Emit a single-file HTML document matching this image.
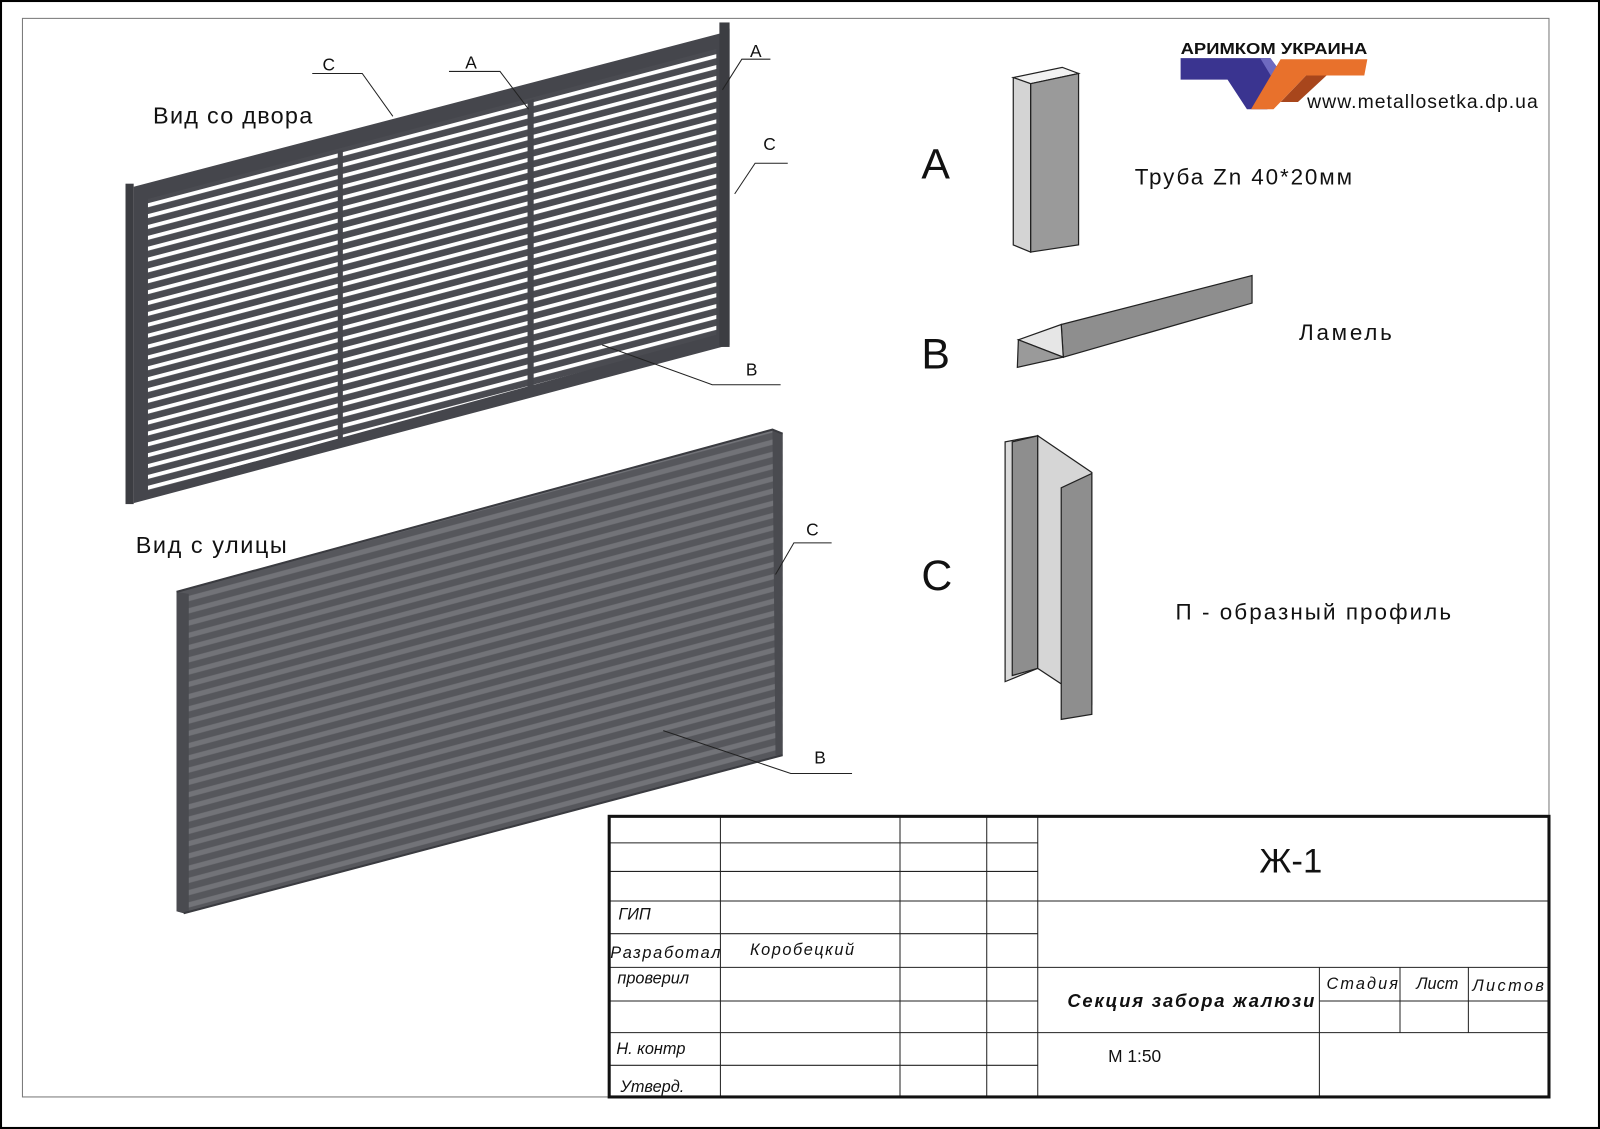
<!DOCTYPE html>
<html><head><meta charset="utf-8"><style>html,body{margin:0;padding:0;background:#fff}svg{display:block}</style></head>
<body>
<svg width="1600" height="1129" viewBox="0 0 1568 1106.4" xmlns="http://www.w3.org/2000/svg" font-family="Liberation Sans, DejaVu Sans, sans-serif">
<defs>
<pattern id="gap" patternUnits="userSpaceOnUse" width="40" height="10.3" patternTransform="rotate(-14.7 145 193)">
<rect width="40" height="10.3" fill="#4a4b51"/><rect y="3.3" width="40" height="3.8" fill="#fff"/></pattern>
<pattern id="str" patternUnits="userSpaceOnUse" width="40" height="11.6" patternTransform="rotate(-15 185 585)">
<rect width="40" height="11.6" fill="#56575c"/><rect y="4" width="40" height="5" fill="#727378"/></pattern>
</defs>
<rect x="1" y="1" width="1566" height="1104.4" fill="#fff" stroke="#000" stroke-width="2"/>
<rect x="22" y="18" width="1496" height="1057" fill="none" stroke="#777" stroke-width="1"/>

<!-- fence 1 -->
<polygon points="131,183 705,33 715,28 715,338 131,493" fill="#45464c"/>
<polygon points="145,195 702,48 702,328 145,481" fill="url(#gap)"/>
<polygon points="331,148 336,147 336,430 331,431" fill="#45464c"/>
<polygon points="517,99 523,97 523,383 517,384" fill="#45464c"/>
<rect x="123" y="180" width="8" height="314" fill="#3c3d42"/>
<rect x="705" y="22" width="10" height="318" fill="#3c3d42"/>

<!-- fence 2 -->
<polygon points="173,580 757,421 767,425 767,740 180,895 173,893" fill="url(#str)"/>
<polygon points="173,580 185,582 185,893 180,895 173,893" fill="#4a4b50"/>
<polygon points="757,421 767,425 767,740 760,740" fill="#4a4b50"/>
<polyline points="173,580 757,421 767,425" fill="none" stroke="#3a3b40" stroke-width="2"/>
<polyline points="180,895 767,740" fill="none" stroke="#3a3b40" stroke-width="2"/>

<!-- leaders -->
<g stroke="#222" stroke-width="1" fill="none">
<polyline points="306,72 355,72 385,114"/>
<polyline points="440,70 490,70 518,107"/>
<polyline points="708,88 727,58 755,58"/>
<polyline points="720,190 740,160 772,160"/>
<polyline points="590,338 698,377 765,377"/>
<polyline points="760,563 778,532 815,532"/>
<polyline points="650,716 775,758 835,758"/>
</g>
<g font-size="17" fill="#111">
<text x="316" y="69">C</text><text x="456" y="67">A</text><text x="735" y="56">A</text>
<text x="748" y="147">C</text><text x="731" y="368">B</text><text x="790" y="525">C</text><text x="798" y="748">B</text>
</g>
<text x="150" y="121" font-size="23" fill="#111" textLength="156">Вид со двора</text>
<text x="133" y="542" font-size="23" fill="#111" textLength="148">Вид с улицы</text>

<!-- logo -->
<text x="1157" y="53" font-size="15" font-weight="bold" fill="#111" textLength="183" lengthAdjust="spacingAndGlyphs">АРИМКОМ УКРАИНА</text>
<polygon points="1157,57 1245,57 1262,80 1242,107 1222,107 1203,78 1157,78" fill="#3a3490"/>
<polygon points="1235,57 1245,57 1262,80 1255,90" fill="#6e6ac0"/>
<polygon points="1255,58 1340,58 1337,74 1280,74 1248,107 1226,107" fill="#e8712c"/>
<polygon points="1280,74 1300,74 1272,100 1255,100" fill="#a8461c"/>
<text x="1281" y="106" font-size="19" fill="#111" textLength="226">www.metallosetka.dp.ua</text>

<!-- profiles -->
<g font-size="42" fill="#111"><text x="903" y="175">A</text><text x="903" y="361">B</text><text x="903" y="578">C</text></g>
<g stroke="#222" stroke-width="1.2">
<polygon points="993,76 1041,66 1057,72 1010,82" fill="#f2f2f2"/>
<polygon points="1010,82 1057,72 1057,240 1010,247" fill="#9a9a9a"/>
<polygon points="993,76 1010,82 1010,247 993,240" fill="#d4d4d4"/>
<polygon points="1040,318 1227,270 1227,297 1042,350" fill="#8e8e8e"/>
<polygon points="998,333 1040,318 1042,350" fill="#e6e6e6"/>
<polygon points="998,333 1042,350 997,360" fill="#9a9a9a"/>
<polygon points="985,433 1017,427 1017,655 985,668" fill="#dadada"/>
<polygon points="992,433 1017,427 1017,655 992,662" fill="#8e8e8e"/>
<polygon points="1017,427 1070,463 1070,690 1017,655" fill="#d6d6d6"/>
<polygon points="1040,478 1070,464 1070,700 1040,705" fill="#8e8e8e"/>
</g>
<g font-size="22" fill="#111">
<text x="1112" y="181" textLength="213">Труба Zn 40*20мм</text>
<text x="1273" y="333" textLength="91">Ламель</text>
<text x="1152" y="607" textLength="270">П - образный профиль</text>
</g>

<!-- title block -->
<g stroke="#222" stroke-width="1" fill="none">
<line x1="597" y1="826" x2="1017" y2="826"/><line x1="597" y1="854" x2="1017" y2="854"/>
<line x1="597" y1="883" x2="1518" y2="883"/><line x1="597" y1="915" x2="1017" y2="915"/>
<line x1="597" y1="948" x2="1518" y2="948"/><line x1="597" y1="981" x2="1017" y2="981"/>
<line x1="1293" y1="981" x2="1518" y2="981"/>
<line x1="597" y1="1012" x2="1518" y2="1012"/><line x1="597" y1="1044" x2="1017" y2="1044"/>
<line x1="706" y1="800" x2="706" y2="1075"/><line x1="882" y1="800" x2="882" y2="1075"/>
<line x1="967" y1="800" x2="967" y2="1075"/><line x1="1017" y1="800" x2="1017" y2="1075"/>
<line x1="1293" y1="948" x2="1293" y2="1075"/><line x1="1372" y1="948" x2="1372" y2="1012"/>
<line x1="1439" y1="948" x2="1439" y2="1012"/>
</g>
<rect x="597" y="800" width="921" height="275" fill="none" stroke="#111" stroke-width="3"/>
<text x="1265" y="855" font-size="34" fill="#111" text-anchor="middle">Ж-1</text>
<g font-size="16" font-style="italic" fill="#111">
<text x="606" y="901">ГИП</text>
<text x="598" y="939" textLength="108">Разработал</text>
<text x="735" y="936" textLength="102">Коробецкий</text>
<text x="605" y="964">проверил</text>
<text x="604" y="1033">Н. контр</text>
<text x="608" y="1070">Утверд.</text>
<text x="1300" y="969" textLength="70">Стадия</text>
<text x="1388" y="969">Лист</text>
<text x="1443" y="971" textLength="70">Листов</text>
<text x="1046" y="987" font-weight="bold" font-size="18" textLength="242">Секция забора жалюзи</text>
</g>
<text x="1086" y="1041" font-size="17" fill="#111">М 1:50</text>
</svg>
</body></html>
